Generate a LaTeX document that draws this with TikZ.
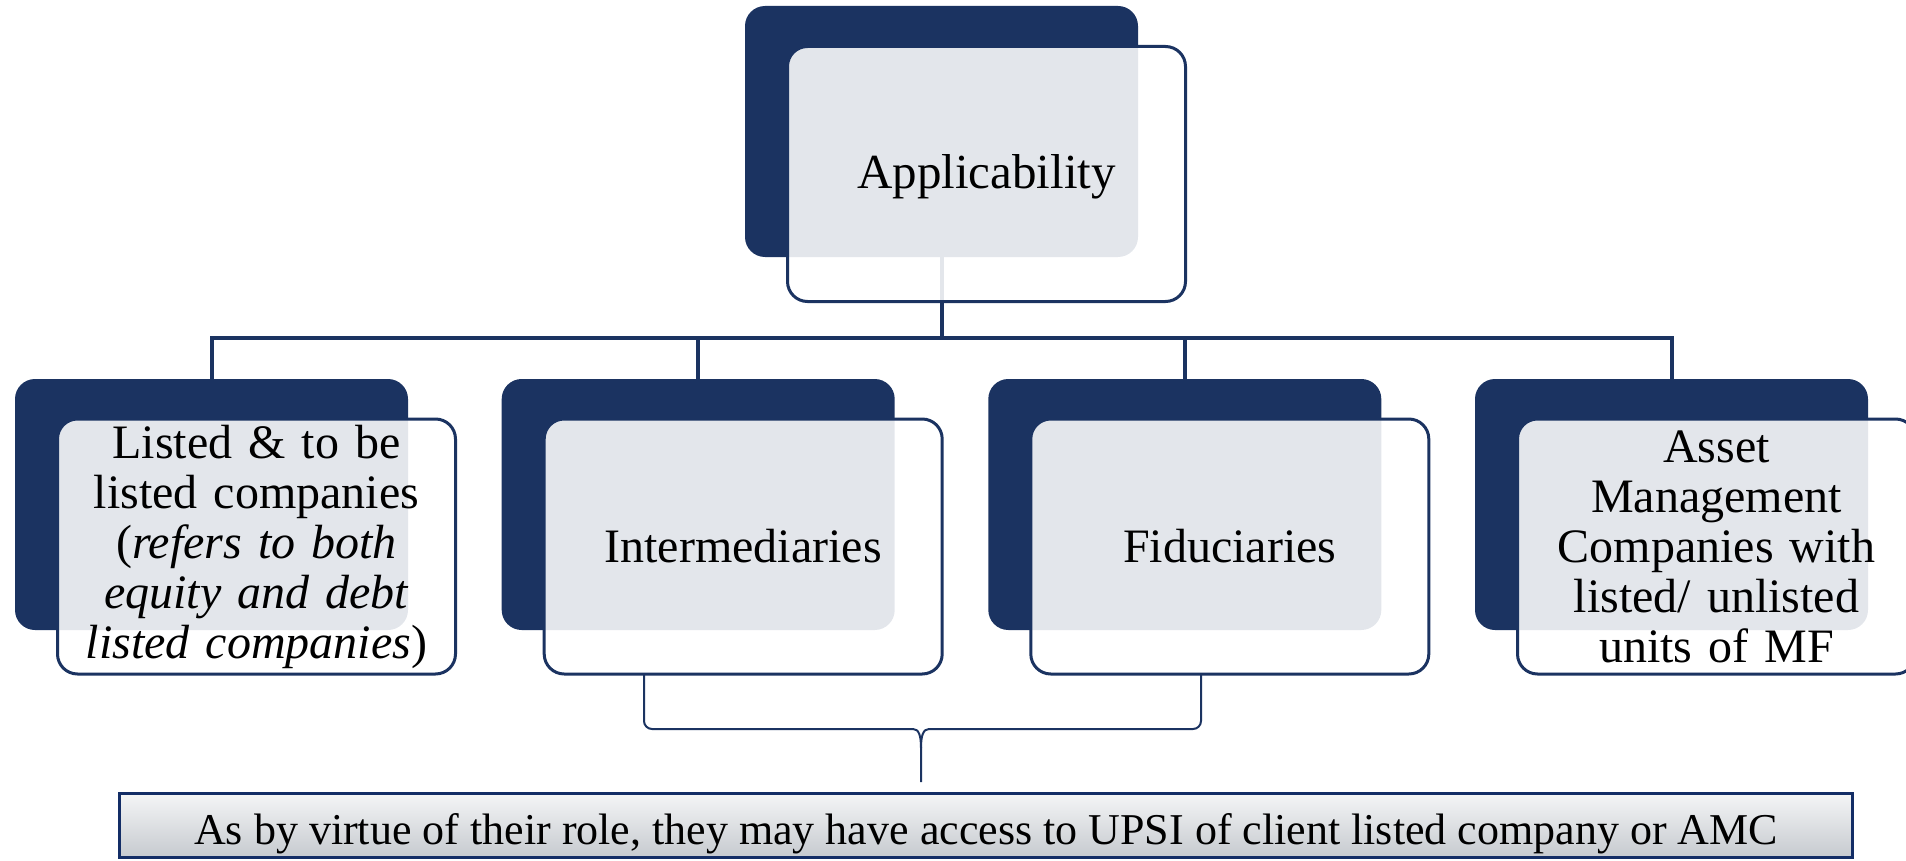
\documentclass[tikz,border=0pt]{standalone}
\usepackage{fontspec}
\setmainfont{Liberation Serif}
\definecolor{navy}{HTML}{1B3361}
\definecolor{bannerline}{HTML}{132D66}
\definecolor{bannertop}{HTML}{F4F5F6}
\definecolor{bannerbot}{HTML}{C6CACF}
\newcommand{\lowered}[2]{\raisebox{-#1}[\height][\depth]{#2}}
\tikzset{
  back/.style={fill=navy, rounded corners=20pt, minimum width=393pt,
    minimum height=251pt, inner sep=0pt, outer sep=0pt},
  front/.style={draw=navy, line width=3pt, fill=white, fill opacity=0.88,
    text opacity=1, rounded corners=20pt, minimum width=398pt,
    minimum height=255pt, inner sep=0pt, outer sep=0pt, align=center,
    text width=390pt, font=\fontsize{48}{50}\selectfont},
  link/.style={draw=navy, line width=4pt},
  bracket/.style={draw=navy, line width=2pt, line join=round},
  banner/.style={draw=bannerline, line width=3pt, top color=bannertop,
    bottom color=bannerbot, minimum width=1733pt, minimum height=64pt,
    inner sep=0pt, font=\fontsize{44}{46}\selectfont},
}
\begin{document}
\begin{tikzpicture}[x=1pt,y=-1pt]
\useasboundingbox (0,0) rectangle (1906,861);
\clip (0,0) rectangle (1906,861);

% dark back plates
\node[back] (topback) at (941.5,131.5) {};
\node[back] (b1back) at (211.5,504.5) {};
\node[back] (b2back) at (698.2,504.5) {};
\node[back] (b3back) at (1184.8,504.5) {};
\node[back] (b4back) at (1671.5,504.5) {};

% tree connectors
\foreach \b in {b1back,b2back,b3back,b4back}
  \draw[link] (topback.south) -- ++(0,81) -| (\b.north);

% translucent front cards
\node[front] (topfront) at (986.5,174) {\fontsize{49}{50}\selectfont\lowered{3pt}{Applicability}};
\node[front] (b1front) at (256.5,546.5) {Listed \& to be\\listed companies\\(\textit{refers to both}\\\textit{equity and debt}\\\textit{listed companies})};
\node[front] (b2front) at (743.2,546.5) {Intermediaries};
\node[front] (b3front) at (1229.8,546.5) {Fiduciaries};
\node[front] (b4front) at (1716.5,546.5) {Asset\\Management\\Companies with\\listed/ unlisted\\units of MF};

% note banner
\node[banner] (note) at (986,825.5) {\lowered{8pt}{As by virtue of their role, they may have access to UPSI of client listed company or AMC}};

% bracket joining intermediaries and fiduciaries to the note
\coordinate (bl) at (b2front.south -| 644,0);
\coordinate (br) at (b3front.south -| 1201,0);
\coordinate (btip) at (921,782);
\draw[bracket] (bl) -- (644,721) to[out=-90,in=180] (652,729) -- (913,729)
  .. controls (919,729) and (921,736) .. (921,748) -- (btip);
\draw[bracket] (br) -- (1201,721) to[out=-90,in=0] (1193,729) -- (929,729)
  .. controls (923,729) and (921,736) .. (921,748);
\end{tikzpicture}
\end{document}
